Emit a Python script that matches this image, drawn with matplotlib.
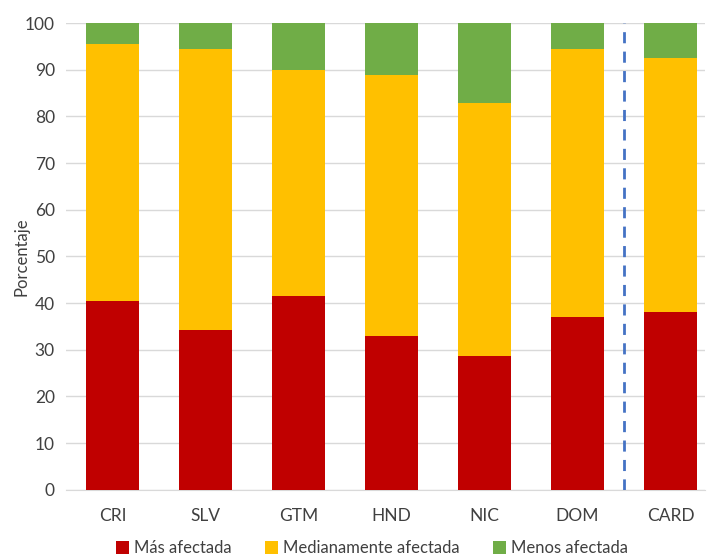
import matplotlib
matplotlib.use("Agg")
import matplotlib.pyplot as plt
import numpy as np

categories = ["CRI", "SLV", "GTM", "HND", "NIC", "DOM", "CARD"]
mas_afectada = [40.4, 34.3, 41.4, 33.0, 28.6, 36.9, 38.1]
mediana_top = [95.4, 94.4, 90.0, 88.8, 82.9, 94.4, 92.4]
mediana = [t - m for t, m in zip(mediana_top, mas_afectada)]
menos = [100 - t for t in mediana_top]
series_names = ["Más afectada", "Medianamente afectada", "Menos afectada"]
colors = ["#C00000", "#FFC000", "#70AD47"]
yticks = [0, 10, 20, 30, 40, 50, 60, 70, 80, 90, 100]

plt.rcParams['font.family'] = ['Lato', 'DejaVu Sans']

fig = plt.figure(figsize=(7.07, 5.57), dpi=100)
ax = fig.add_axes([0.0934, 0.1208, 0.9036, 0.8379])

x = np.arange(len(categories))
w = 0.57
b1 = ax.bar(x, mas_afectada, w, color=colors[0], label=series_names[0], zorder=3)
b2 = ax.bar(x, mediana, w, bottom=mas_afectada, color=colors[1], label=series_names[1], zorder=3)
bottom3 = [a + b for a, b in zip(mas_afectada, mediana)]
b3 = ax.bar(x, menos, w, bottom=bottom3, color=colors[2], label=series_names[2], zorder=3)

ax.plot([5.5, 5.5], [0, 100], color="#4472C4", linestyle=(0, (4, 3)), linewidth=2, zorder=4)

ax.set_ylim(0, 100)
ax.set_xlim(-0.5, 6.37)
ax.set_yticks(yticks)
ax.set_xticks(x)
ax.set_xticklabels(categories)
ax.yaxis.grid(True, color="#D9D9D9", linewidth=1, zorder=0)
ax.set_axisbelow(True)
for s in ["top", "right", "left"]:
    ax.spines[s].set_visible(False)
ax.spines["bottom"].set_color("#D9D9D9")
ax.tick_params(axis="both", length=0, labelsize=12.5, colors="#404040")
ax.tick_params(axis="x", pad=13)
ax.tick_params(axis="y", pad=8)
ax.set_ylabel("Porcentaje", fontsize=12, color="#404040", labelpad=-3)

fig.legend(handles=[b1, b2, b3], labels=series_names, loc="center",
           bbox_to_anchor=(372 / 707, 1 - 548 / 557), ncol=3, frameon=False,
           fontsize=12, handlelength=0.8, handleheight=0.8, handletextpad=0.3,
           columnspacing=2.0, labelcolor="#404040")

fig.savefig("out.png", dpi=100)
